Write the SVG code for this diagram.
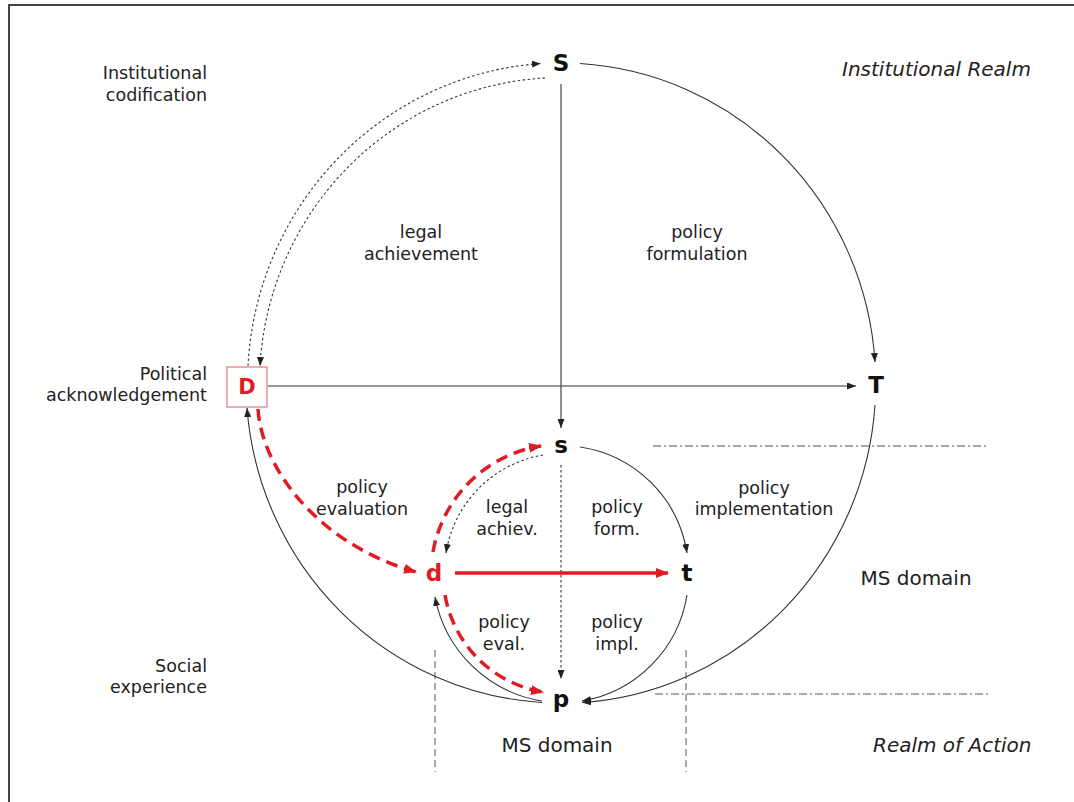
<svg xmlns="http://www.w3.org/2000/svg" width="1074" height="802" viewBox="0 0 1074 802">
<style>
.lbl{font-family:"DejaVu Sans","Liberation Sans",sans-serif;font-size:17.5px;fill:#222;text-anchor:middle}
.side{font-family:"DejaVu Sans","Liberation Sans",sans-serif;font-size:17.5px;fill:#222;text-anchor:end}
.realm{font-family:"DejaVu Sans","Liberation Sans",sans-serif;font-style:italic;font-size:20px;fill:#222}
.node{font-family:"DejaVu Sans","Liberation Sans",sans-serif;font-weight:bold;font-size:23px;fill:#111;text-anchor:middle}
.red{fill:#e01b24}
.ln{fill:none;stroke:#333;stroke-width:1.1}
.dot{fill:none;stroke:#333;stroke-width:1.1;stroke-dasharray:2.5,2.5}
.rdash{fill:none;stroke:#e01b24;stroke-width:3.5;stroke-dasharray:12,7}
.rsolid{fill:none;stroke:#e01b24;stroke-width:3.5}
.guide{fill:none;stroke:#555;stroke-width:1;stroke-dasharray:8,3,2,3}
.vguide{fill:none;stroke:#555;stroke-width:1;stroke-dasharray:7,4}
</style>
<defs>
<marker id="ab" markerUnits="userSpaceOnUse" markerWidth="9" markerHeight="7" refX="9" refY="3.5" orient="auto"><path d="M0,0 L9,3.5 L0,7 z" fill="#222"/></marker>
<marker id="ar" markerUnits="userSpaceOnUse" markerWidth="13" markerHeight="10" refX="12" refY="5" orient="auto"><path d="M0,0 L13,5 L0,10 z" fill="#e01b24"/></marker>
</defs>
<rect x="0" y="0" width="1074" height="802" fill="#fff"/>
<path d="M9,802 V5 H1074" fill="none" stroke="#444" stroke-width="2"/>

<g id="guides">
<path class="guide" d="M653,446 H988"/>
<path class="guide" d="M655,694 H988"/>
<path class="vguide" d="M435,650 V772"/>
<path class="vguide" d="M686,650 V772"/>
</g>

<g id="connectors">
<path class="ln" d="M580,63.5 A315,320 0 0 1 875,362" marker-end="url(#ab)"/>
<path class="ln" d="M875,405 A315,320 0 0 1 582,702.5" marker-end="url(#ab)"/>
<path class="ln" d="M542,702.5 A315,320 0 0 1 247,408" marker-end="url(#ab)"/>
<path class="ln" d="M561,84 V428" marker-end="url(#ab)"/>
<path class="ln" d="M268,386 H856" marker-end="url(#ab)"/>
<path class="dot" d="M248,366 A315,320 0 0 1 541,63.5" marker-end="url(#ab)"/>
<path class="dot" d="M545,78 A302,306 0 0 0 260,366" marker-end="url(#ab)"/>
<path class="ln" d="M580,447 A127,127 0 0 1 687,553" marker-end="url(#ab)"/>
<path class="ln" d="M687,595 A128,128 0 0 1 582,701" marker-end="url(#ab)"/>
<path class="ln" d="M542,701 A130,130 0 0 1 435,597" marker-end="url(#ab)"/>
<path class="dot" d="M543,455 A118,118 0 0 0 446,553" marker-end="url(#ab)"/>
<path class="dot" d="M561,465 V679" marker-end="url(#ab)"/>
<path class="rdash" d="M258,409 C262,470 320,545 416,572" marker-end="url(#ar)"/>
<path class="rdash" d="M433,552 A130,130 0 0 1 541,446" marker-end="url(#ar)"/>
<path class="rdash" d="M445,595 A119,119 0 0 0 543,692" marker-end="url(#ar)"/>
<path class="rsolid" d="M455,573 H668" marker-end="url(#ar)"/>
</g>

<g id="node-S"><text class="node" x="561" y="71">S</text></g>
<g id="node-T"><text class="node" x="876" y="393">T</text></g>
<g id="node-D"><rect x="227" y="367" width="40" height="40" fill="#fff" stroke="#e07a7a" stroke-width="1.2"/><text class="node red" x="247" y="394" style="font-size:21px">D</text></g>
<g id="node-s"><text class="node" x="561" y="453">s</text></g>
<g id="node-d"><text class="node red" x="434" y="581">d</text></g>
<g id="node-t"><text class="node" x="687" y="581">t</text></g>
<g id="node-p"><text class="node" x="561" y="707">p</text></g>

<g id="labels">
<text class="side" x="207" y="79">Institutional</text>
<text class="side" x="207" y="101">codification</text>
<text class="side" x="207" y="380">Political</text>
<text class="side" x="207" y="401">acknowledgement</text>
<text class="side" x="207" y="672">Social</text>
<text class="side" x="207" y="693">experience</text>
<text class="realm" x="842" y="76">Institutional Realm</text>
<text class="realm" x="873" y="752">Realm of Action</text>
<text class="lbl" x="421" y="238">legal</text>
<text class="lbl" x="421" y="260">achievement</text>
<text class="lbl" x="697" y="238">policy</text>
<text class="lbl" x="697" y="260">formulation</text>
<text class="lbl" x="362" y="493">policy</text>
<text class="lbl" x="362" y="515">evaluation</text>
<text class="lbl" x="507" y="513">legal</text>
<text class="lbl" x="507" y="535">achiev.</text>
<text class="lbl" x="617" y="513">policy</text>
<text class="lbl" x="617" y="535">form.</text>
<text class="lbl" x="764" y="494">policy</text>
<text class="lbl" x="764" y="515">implementation</text>
<text class="lbl" x="504" y="628">policy</text>
<text class="lbl" x="504" y="650">eval.</text>
<text class="lbl" x="617" y="628">policy</text>
<text class="lbl" x="617" y="650">impl.</text>
<text class="lbl" x="916" y="585" style="font-size:20px">MS domain</text>
<text class="lbl" x="557" y="752" style="font-size:20px">MS domain</text>
</g>
</svg>
